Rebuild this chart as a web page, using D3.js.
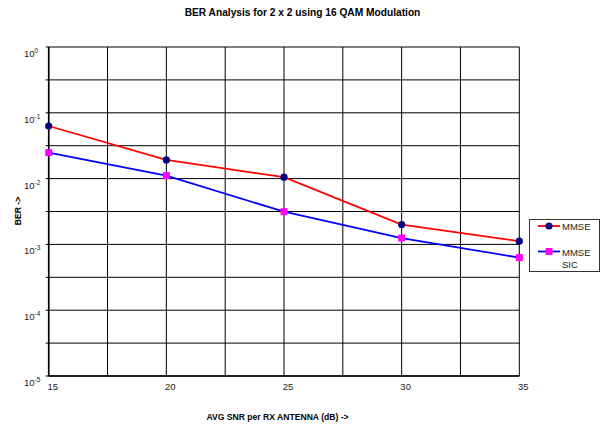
<!DOCTYPE html>
<html><head><meta charset="utf-8">
<script src="https://cdn.jsdelivr.net/npm/d3@7"></script>
<style>body{margin:0;background:#fff;} svg{display:block;font-family:"Liberation Sans",Arial,sans-serif;}</style>
</head><body>
<svg id="c" width="602" height="426"></svg>
<script>
const snr = [15, 20, 25, 30, 35];
const mmse = [0.063, 0.0192, 0.0105, 0.0020, 0.00112];
const mmseSic = [0.0248, 0.0111, 0.00314, 0.00125, 0.00063];
const xTicks = [15, 20, 25, 30, 35];
const yExps = [0, -1, -2, -3, -4, -5];
const seriesNames = ["MMSE", "MMSE SIC"];

const svg = d3.select("#c");
const x = d3.scaleLinear().domain([15, 35]).range([48.7, 519.3]);
const y = d3.scaleLog().domain([1e-5, 1]).range([376, 47]);

// gridlines
const hGrid = d3.range(0, 11).map(k => Math.pow(10, -k / 2));
svg.append("g").selectAll("line").data(hGrid).join("line")
  .attr("x1", x(15)).attr("x2", x(35))
  .attr("y1", d => y(d)).attr("y2", d => y(d))
  .attr("stroke", "#000").attr("stroke-width", 1);
const vGrid = d3.range(15, 35.01, 2.5);
svg.append("g").selectAll("line").data(vGrid).join("line")
  .attr("x1", d => x(d)).attr("x2", d => x(d))
  .attr("y1", y(1)).attr("y2", y(1e-5))
  .attr("stroke", "#000").attr("stroke-width", 1);

// axes lines
svg.append("line").attr("x1", x(15)).attr("x2", x(15)).attr("y1", y(1)).attr("y2", y(1e-5)).attr("stroke", "#000").attr("stroke-width", 1.6);
svg.append("line").attr("x1", x(15)).attr("x2", x(35)).attr("y1", y(1e-5)).attr("y2", y(1e-5)).attr("stroke", "#000").attr("stroke-width", 1.6);
// small y ticks
svg.append("g").selectAll("line").data(hGrid).join("line")
  .attr("x1", x(15) - 3).attr("x2", x(15))
  .attr("y1", d => y(d)).attr("y2", d => y(d)).attr("stroke", "#000");

// y tick labels
const yl = svg.append("g").selectAll("text").data(yExps).join("text")
  .attr("x", 24).attr("y", d => y(Math.pow(10, d)) + 10)
  .attr("font-size", 9.5).attr("fill", "#222");
yl.append("tspan").text("10");
yl.append("tspan").attr("font-size", 6.5).attr("dy", -4).text(d => d);

// x tick labels
svg.append("g").selectAll("text").data(xTicks).join("text")
  .attr("x", d => x(d) + 4).attr("y", 389.5)
  .attr("text-anchor", "middle").attr("font-size", 9.5).attr("fill", "#222")
  .text(d => d);

// titles
svg.append("text").attr("x", 302.5).attr("y", 16).attr("text-anchor", "middle")
  .attr("font-size", 10.2).attr("font-weight", "bold").text("BER Analysis for 2 x 2 using 16 QAM Modulation");
svg.append("text").attr("x", 277.5).attr("y", 420).attr("text-anchor", "middle")
  .attr("font-size", 8.6).attr("font-weight", "bold").text("AVG SNR per RX ANTENNA (dB) ->");
svg.append("text").attr("transform", "translate(21,211) rotate(-90)").attr("text-anchor", "middle")
  .attr("font-size", 8.6).attr("font-weight", "bold").text("BER ->");

// series
const line = d3.line().x(d => x(d[0])).y(d => y(d[1]));
const d1 = snr.map((s, i) => [s, mmse[i]]);
const d2 = snr.map((s, i) => [s, mmseSic[i]]);
svg.append("path").datum(d1).attr("d", line).attr("fill", "none").attr("stroke", "#ff0000").attr("stroke-width", 1.8);
svg.append("path").datum(d2).attr("d", line).attr("fill", "none").attr("stroke", "#0000ff").attr("stroke-width", 1.8);
svg.append("g").selectAll("circle").data(d1).join("circle")
  .attr("cx", d => x(d[0])).attr("cy", d => y(d[1])).attr("r", 3.6).attr("fill", "#000080");
svg.append("g").selectAll("rect").data(d2).join("rect")
  .attr("x", d => x(d[0]) - 3.5).attr("y", d => y(d[1]) - 3.5).attr("width", 7).attr("height", 7).attr("fill", "#ff00ff");

// legend
const lg = svg.append("g");
lg.append("rect").attr("x", 529.5).attr("y", 219.5).attr("width", 70).attr("height", 52)
  .attr("fill", "#fff").attr("stroke", "#333").attr("stroke-width", 1);
lg.append("line").attr("x1", 538).attr("x2", 560).attr("y1", 226).attr("y2", 226).attr("stroke", "#ff0000").attr("stroke-width", 1.8);
lg.append("circle").attr("cx", 549).attr("cy", 226).attr("r", 3.6).attr("fill", "#000080");
lg.append("text").attr("x", 562).attr("y", 229.5).attr("font-size", 9.5).attr("fill", "#222").text(seriesNames[0]);
lg.append("line").attr("x1", 538).attr("x2", 560).attr("y1", 251.5).attr("y2", 251.5).attr("stroke", "#0000ff").attr("stroke-width", 1.8);
lg.append("rect").attr("x", 545.5).attr("y", 248).attr("width", 7).attr("height", 7).attr("fill", "#ff00ff");
const t2 = lg.append("text").attr("font-size", 9.5).attr("fill", "#222");
t2.append("tspan").attr("x", 562).attr("y", 256).text(seriesNames[1].split(" ")[0]);
t2.append("tspan").attr("x", 562).attr("y", 268).text(seriesNames[1].split(" ")[1]);
</script>
</body></html>
